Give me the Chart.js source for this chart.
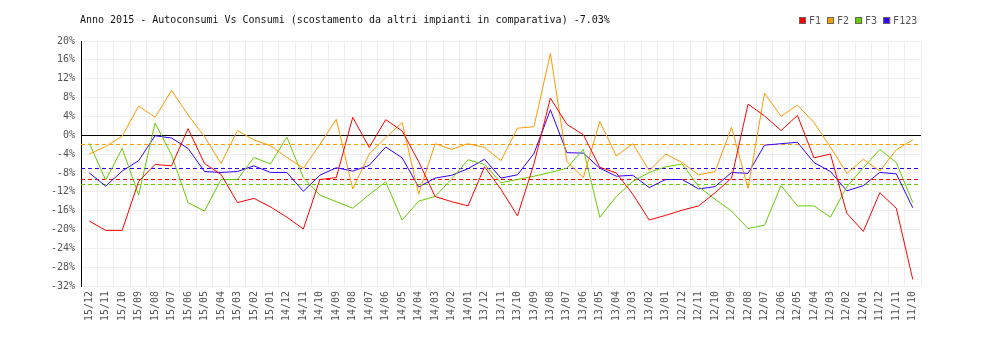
<!DOCTYPE html>
<html>
<head>
<meta charset="utf-8">
<script src="https://cdn.jsdelivr.net/npm/chart.js@4.4.1/dist/chart.umd.min.js"></script>
<style>
  html, body { margin: 0; padding: 0; background: #ffffff; }
  canvas { display: block; }
</style>
</head>
<body>
<canvas id="chart" width="1000" height="340"></canvas>
<script>
// Months, newest first (yy/mm)
const months = [
  '15/12','15/11','15/10','15/09','15/08','15/07','15/06','15/05','15/04','15/03','15/02','15/01',
  '14/12','14/11','14/10','14/09','14/08','14/07','14/06','14/05','14/04','14/03','14/02','14/01',
  '13/12','13/11','13/10','13/09','13/08','13/07','13/06','13/05','13/04','13/03','13/02','13/01',
  '12/12','12/11','12/10','12/09','12/08','12/07','12/06','12/05','12/04','12/03','12/02','12/01',
  '11/12','11/11','11/10'
];

const seriesNames = ['F1', 'F2', 'F3', 'F123'];
const seriesColors = ['#ff0000', '#ff9900', '#66cc00', '#3300ff'];

// Deviation (%) from the other plants in the comparison, per time band
const f1 = [
  -18.2, -20.2, -20.2, -9.8, -6.2, -6.5, 1.4, -6.0, -8.3, -14.3,
  -13.4, -15.2, -17.4, -19.9, -9.4, -9.0, 3.8, -2.6, 3.3, 0.9,
  -5.6, -13.0, -14.1, -15.0, -6.7, -11.5, -17.1, -6.1, 7.9, 2.3,
  0.1, -6.8, -8.0, -12.5, -18.0, -17.0, -15.9, -15.0, -12.2, -9.1,
  6.6, 4.1, 1.0, 4.2, -4.8, -4.0, -16.6, -20.4, -12.2, -15.5,
  -30.6
];
const f2 = [
  -4.0, -2.4, -0.2, 6.2, 3.8, 9.5, 4.3, -0.3, -6.0, 1.0,
  -1.0, -2.2, -4.7, -7.0, -2.0, 3.4, -11.4, -4.0, -0.5, 2.7,
  -12.5, -1.8, -3.0, -1.8, -2.6, -5.4, 1.5, 1.8, 17.4, -5.6,
  -9.0, 2.9, -4.4, -1.8, -7.5, -4.0, -5.8, -8.4, -7.7, 1.7,
  -11.3, 8.9, 4.0, 6.4, 2.7, -2.5, -8.1, -5.1, -7.6, -3.1,
  -1.0
];
const f3 = [
  -1.7, -9.5, -2.8, -12.7, 2.6, -4.2, -14.3, -16.1, -9.4, -9.4,
  -4.7, -6.1, -0.4, -9.0, -12.7, -14.1, -15.5, -12.6, -9.9, -18.0,
  -14.0, -13.0, -9.3, -5.2, -6.2, -10.1, -9.4, -8.7, -7.9, -7.0,
  -3.0, -17.4, -13.0, -9.8, -7.9, -6.7, -6.1, -10.9, -13.6, -16.1,
  -19.8, -19.1, -10.7, -15.0, -15.0, -17.4, -10.9, -6.9, -3.0, -5.8,
  -14.3
];
const f123 = [
  -8.0, -10.8, -7.6, -5.4, -0.1, -0.6, -2.8, -7.7, -7.9, -7.7,
  -6.5, -7.9, -7.9, -11.9, -8.5, -6.9, -7.6, -6.4, -2.5, -4.8,
  -11.0, -9.1, -8.5, -7.1, -5.1, -9.1, -8.4, -3.9, 5.4, -3.7,
  -3.8, -7.0, -8.7, -8.5, -11.1, -9.4, -9.4, -11.4, -10.9, -7.9,
  -8.1, -2.1, -1.8, -1.5, -5.8, -7.7, -11.8, -10.7, -7.9, -8.2,
  -15.4
];

// Period averages per band (dashed reference lines)
const averages = [-9.22, -1.77, -10.28, -7.03];

// Y axis range and tick step (%)
const yMin = -32;
const yMax = 20;
const yStep = 4;

const seriesValues = [f1, f2, f3, f123];
const titleText = 'Anno 2015 - Autoconsumi Vs Consumi (scostamento da altri impianti in comparativa) ' +
  averages[3].toFixed(2) + '%';

const monoFont = '"DejaVu Sans Mono", "Liberation Mono", monospace';

// Average lines, title and legend
const overlay = {
  id: 'overlay',
  beforeDatasetsDraw(chart) {
    const { ctx, chartArea, scales } = chart;
    ctx.save();
    ctx.lineWidth = 1;
    ctx.setLineDash([4, 3]);
    averages.forEach((v, i) => {
      const y = Math.round(scales.y.getPixelForValue(v)) + 0.5;
      ctx.strokeStyle = seriesColors[i];
      ctx.beginPath();
      ctx.moveTo(chartArea.left, y);
      ctx.lineTo(chartArea.right, y);
      ctx.stroke();
    });
    ctx.restore();
  },
  afterDraw(chart) {
    const { ctx } = chart;
    ctx.save();
    ctx.font = '10px ' + monoFont;
    ctx.textBaseline = 'middle';
    ctx.textAlign = 'left';
    ctx.fillStyle = '#111111';
    ctx.fillText(titleText, 80, 20);

    let x = 799;
    seriesNames.forEach((name, i) => {
      ctx.fillStyle = seriesColors[i];
      ctx.fillRect(x, 17, 7, 7);
      ctx.strokeStyle = '#666666';
      ctx.lineWidth = 1;
      ctx.strokeRect(x + 0.5, 17.5, 6, 6);
      ctx.fillStyle = '#555555';
      ctx.fillText(name, x + 10, 21);
      x += 10 + ctx.measureText(name).width + 6;
    });
    ctx.restore();
  }
};

new Chart(document.getElementById('chart'), {
  type: 'line',
  data: {
    labels: months,
    datasets: seriesNames.map((name, i) => ({
      label: name,
      data: seriesValues[i],
      borderColor: seriesColors[i],
      backgroundColor: seriesColors[i],
      borderWidth: 1,
      pointRadius: 0,
      tension: 0,
      fill: false
    }))
  },
  options: {
    responsive: false,
    animation: false,
    devicePixelRatio: 1,
    layout: { padding: { top: 41, right: 79, left: 0, bottom: 0 } },
    plugins: {
      legend: { display: false },
      title: { display: false },
      tooltip: { enabled: false }
    },
    scales: {
      x: {
        offset: true,
        grid: { offset: true, color: '#eeeeee', lineWidth: 1, drawTicks: false },
        border: { display: false },
        ticks: {
          autoSkip: false,
          minRotation: 90,
          maxRotation: 90,
          padding: 5,
          color: '#555555',
          font: { family: monoFont, size: 10 }
        },
        afterFit(scale) { scale.height = 54; }
      },
      y: {
        min: yMin,
        max: yMax,
        ticks: {
          stepSize: yStep,
          padding: 6,
          color: '#555555',
          font: { family: monoFont, size: 10 },
          callback: v => v + '%'
        },
        grid: {
          color: c => (c.tick && c.tick.value === 0 ? '#000000' : '#eeeeee'),
          lineWidth: 1,
          drawTicks: false
        },
        border: { color: '#000000', width: 1 },
        afterFit(scale) { scale.width = 81; }
      }
    }
  },
  plugins: [overlay]
});
</script>
</body>
</html>
